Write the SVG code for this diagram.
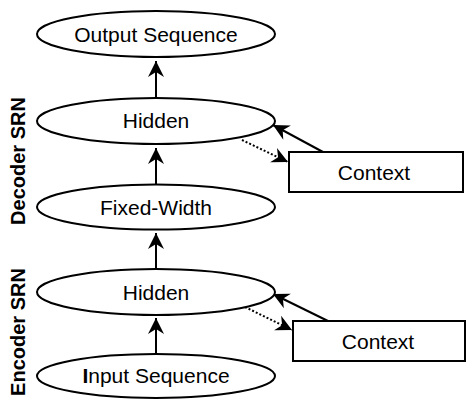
<svg xmlns="http://www.w3.org/2000/svg" width="466" height="399" viewBox="0 0 466 399">
  <style>
    .node ellipse, .node rect { fill: #fff; stroke: #000; stroke-width: 2; }
    .label { font-family: "Liberation Sans", Arial, sans-serif; font-size: 21px; fill: #000; text-anchor: middle; }
    .side { font-family: "Liberation Sans", Arial, sans-serif; font-size: 20px; font-weight: bold; fill: #000; text-anchor: middle; }
    .edge { stroke: #000; stroke-width: 2; fill: none; marker-end: url(#ah); }
    .dotted { stroke-dasharray: 2 2; }
  </style>
  <defs>
    <marker id="ah" markerUnits="userSpaceOnUse" orient="auto" overflow="visible" markerWidth="1" markerHeight="1" refX="0" refY="0">
      <path d="M0,0 L-16,-8 L-11,0 L-16,8 z" fill="#000"/>
    </marker>
  </defs>
  <rect width="466" height="399" fill="#fff"/>

  <!-- side labels -->
  <text class="side" transform="translate(25,161) rotate(-90)">Decoder SRN</text>
  <text class="side" transform="translate(25,332) rotate(-90)">Encoder SRN</text>

  <!-- connectors -->
  <g id="edges">
    <line class="edge" x1="156" y1="98" x2="156" y2="61"/>
    <line class="edge" x1="156" y1="184.5" x2="156" y2="148"/>
    <line class="edge" x1="156" y1="269" x2="156" y2="233"/>
    <line class="edge" x1="156" y1="354" x2="156" y2="318"/>
    <line class="edge" x1="323" y1="152" x2="273" y2="125"/>
    <line class="edge dotted" x1="242" y1="140" x2="288" y2="162"/>
    <line class="edge" x1="328" y1="321" x2="273" y2="294"/>
    <line class="edge dotted" x1="245" y1="307" x2="292" y2="330"/>
  </g>

  <g id="output" class="node">
    <ellipse cx="156" cy="34" rx="119" ry="23"/>
    <text class="label" x="156" y="42">Output Sequence</text>
  </g>
  <g id="decoder-hidden" class="node">
    <ellipse cx="156" cy="121" rx="119" ry="23"/>
    <text class="label" x="156" y="128">Hidden</text>
  </g>
  <g id="decoder-context" class="node">
    <rect x="289" y="152" width="174" height="40"/>
    <text class="label" x="374" y="180">Context</text>
  </g>
  <g id="fixed-width" class="node">
    <ellipse cx="156" cy="207" rx="119" ry="22.5"/>
    <text class="label" x="156" y="215">Fixed-Width</text>
  </g>
  <g id="encoder-hidden" class="node">
    <ellipse cx="156" cy="292" rx="119" ry="23"/>
    <text class="label" x="156" y="300">Hidden</text>
  </g>
  <g id="encoder-context" class="node">
    <rect x="293" y="321" width="172" height="40"/>
    <text class="label" x="378" y="349">Context</text>
  </g>
  <g id="input" class="node">
    <ellipse cx="156" cy="376" rx="119" ry="22"/>
    <text class="label" x="156" y="383"><tspan font-weight="bold">I</tspan>nput Sequence</text>
  </g>
</svg>
